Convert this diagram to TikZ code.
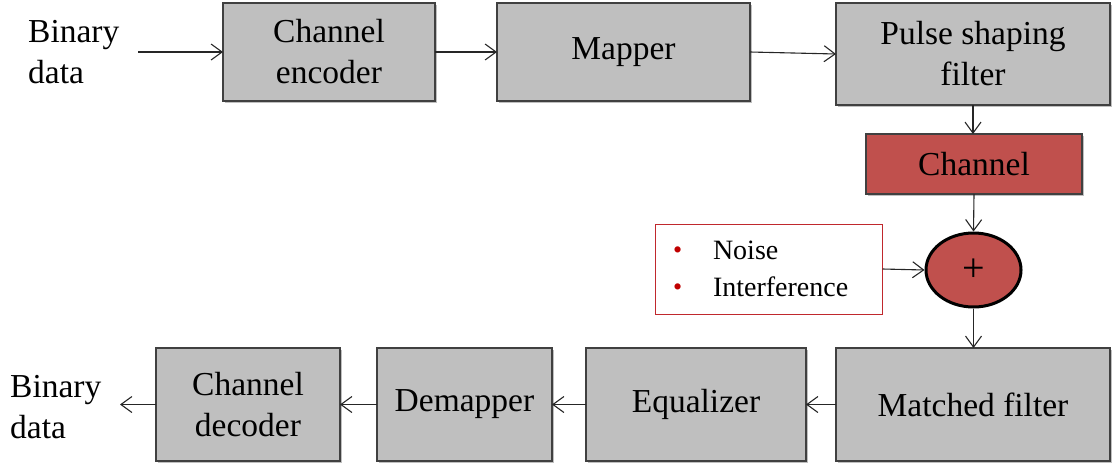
\documentclass[tikz,border=0pt]{standalone}
\usepackage{fontspec}
\setmainfont{Liberation Serif}
\usetikzlibrary{arrows.meta,shapes.geometric,shadows}
\definecolor{boxgray}{HTML}{BFBFBF}
\definecolor{chred}{HTML}{C0504D}
\definecolor{bulred}{HTML}{C00000}
\definecolor{noiseedge}{HTML}{C0282D}
\begin{document}
\begin{tikzpicture}[x=1pt,y=-1pt,
  blk/.style={draw=black!75, line width=1.3pt, fill=boxgray, inner sep=0pt, outer sep=0pt,
    align=center, font=\fontsize{33.5}{41}\selectfont,
    drop shadow={shadow xshift=2pt,shadow yshift=-2pt,fill=black,opacity=0.25}},
  redblk/.style={blk, fill=chred},
  conn/.style={draw=black!85, line width=1.1pt, -{Straight Barb[length=11pt,width=16pt,line width=1.1pt]}},
  lbl/.style={align=left, font=\fontsize{33.5}{41}\selectfont, inner sep=0pt}
]
\useasboundingbox (0,0) rectangle (1113,464);

\node[blk, minimum width=212pt, minimum height=98pt] (enc) at (329,52) {Channel\\encoder};
\node[blk, minimum width=253pt, minimum height=98pt] (map) at (623.5,52) {Mapper};
\node[blk, minimum width=274pt, minimum height=102pt] (pulse) at (973,54) {Pulse shaping\\filter};
\node[redblk, minimum width=216pt, minimum height=60pt] (chan) at (974,164) {Channel};
\node[ellipse, draw=black, line width=3pt, fill=chred, minimum width=95pt, minimum height=74pt,
  inner sep=0pt, font=\fontsize{40}{40}\selectfont] (sum) at (973.5,270) {+};
\node[draw=noiseedge, line width=1pt, fill=white, minimum width=227pt, minimum height=90pt,
  inner xsep=18pt, inner ysep=0pt, text width=191pt, align=left, font=\fontsize{28}{37}\selectfont] (noise) at (768.5,269)
  {\makebox[40pt][l]{\raisebox{1pt}{\textcolor{bulred}{\fontsize{26}{26}\selectfont\textbullet}}}Noise\\
   \makebox[40pt][l]{\raisebox{1pt}{\textcolor{bulred}{\fontsize{26}{26}\selectfont\textbullet}}}Interference};
\node[blk, minimum width=274pt, minimum height=113pt] (mf) at (973,404.5) {Matched filter};
\node[blk, minimum width=220pt, minimum height=113pt] (eq) at (696,404.5) {Equalizer};
\node[blk, minimum width=175pt, minimum height=113pt] (dem) at (464.5,404.5) {Demapper};
\node[blk, minimum width=184pt, minimum height=113pt] (dec) at (248,404.5) {Channel\\decoder};

\node[lbl, anchor=west] (bin1) at (28,52) {Binary\\data};
\node[lbl, anchor=west] (bin2) at (10,407) {Binary\\data};

\coordinate (inS) at (138,52);
\coordinate (outE) at (120,404.5);

\draw[conn] (inS) -- (enc.west);
\draw[conn] (enc.east) -- (map.west);
\draw[conn] (map.east) -- (pulse.west);
\draw[conn] (pulse.south) -- (chan.north -| pulse.south);
\draw[conn] (chan.south) -- (sum.north);
\draw[conn] (noise.east) -- (sum.west);
\draw[conn] (sum.south) -- (mf.north -| sum.south);
\draw[conn] (mf.west) -- (eq.east);
\draw[conn] (eq.west) -- (dem.east);
\draw[conn] (dem.west) -- (dec.east);
\draw[conn] (dec.west) -- (outE);
\end{tikzpicture}
\end{document}
